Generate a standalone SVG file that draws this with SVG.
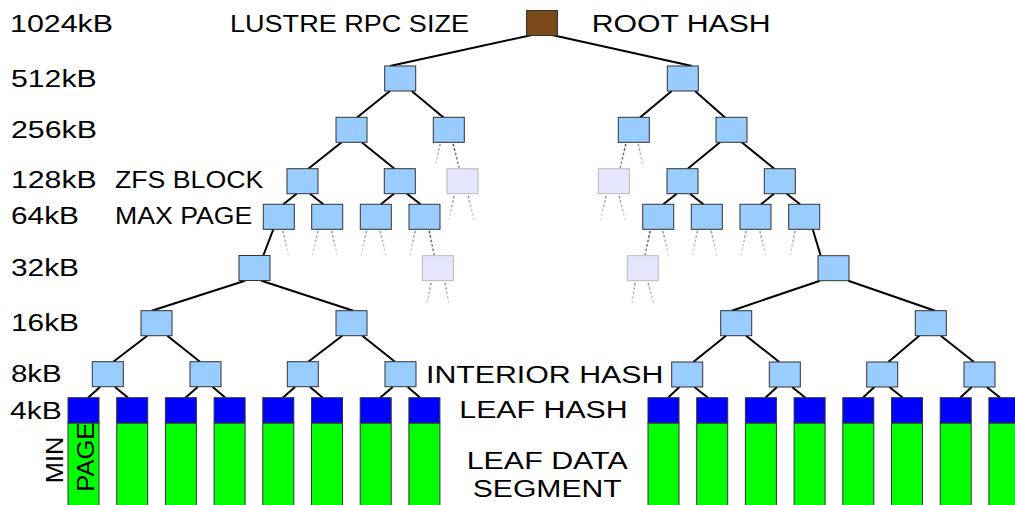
<svg xmlns="http://www.w3.org/2000/svg" width="1015" height="505" viewBox="0 0 1015 505">
<defs>
<style>
text{font-family:"Liberation Sans",Arial,sans-serif;font-size:23px;fill:#000}
.h{fill:#99ccff;stroke:#333;stroke-width:1}
.f{fill:#e6e6ff;stroke:#b8b8b8;stroke-width:1}
.r{fill:#7b4a1b;stroke:#333;stroke-width:1}
.lh{fill:#0000ff;stroke:#333;stroke-width:1}
.ld{fill:#00ff00;stroke:#333;stroke-width:1}
#edges line{stroke:#000;stroke-width:2}
#stubs line{stroke-width:1.6;stroke-dasharray:1.3 3.2;stroke-linecap:round}
.sl{stroke:url(#gl)}
.sd{stroke:url(#gd)}
</style>
<linearGradient id="gl" x1="0" y1="0" x2="0" y2="1"><stop offset="0" stop-color="#999"/><stop offset="1" stop-color="#e4e4e4"/></linearGradient>
<linearGradient id="gd" x1="0" y1="0" x2="0" y2="1"><stop offset="0" stop-color="#555"/><stop offset="1" stop-color="#999"/></linearGradient>
</defs>
<rect width="1015" height="505" fill="#fff"/>
<g id="edges">
<line x1="532" y1="35" x2="390" y2="66"/>
<line x1="552" y1="35" x2="692" y2="66"/>
<line x1="390" y1="91" x2="357" y2="117.5"/>
<line x1="411.7" y1="91" x2="443.5" y2="117.5"/>
<line x1="671.7" y1="91" x2="640" y2="117.5"/>
<line x1="695" y1="91" x2="725" y2="117.5"/>
<line x1="341.7" y1="142.3" x2="308.3" y2="168.7"/>
<line x1="361.7" y1="142.3" x2="394.5" y2="168.7"/>
<line x1="720" y1="142.3" x2="687.7" y2="168.7"/>
<line x1="741.7" y1="142.3" x2="774.3" y2="168.7"/>
<line x1="296.7" y1="193.7" x2="283.3" y2="204.3"/>
<line x1="310" y1="193.7" x2="323.3" y2="204.3"/>
<line x1="394" y1="193.7" x2="380.8" y2="204.3"/>
<line x1="407" y1="193.7" x2="420.5" y2="204.3"/>
<line x1="676.7" y1="193.7" x2="663.3" y2="204.3"/>
<line x1="690" y1="193.7" x2="703.3" y2="204.3"/>
<line x1="774" y1="193.7" x2="761" y2="204.3"/>
<line x1="786.7" y1="193.7" x2="800" y2="204.3"/>
<line x1="273.3" y1="229.3" x2="263.3" y2="255.5"/>
<line x1="812.7" y1="229.3" x2="820.7" y2="255.7"/>
<line x1="245" y1="280.7" x2="151.7" y2="310.7"/>
<line x1="261.4" y1="280.7" x2="353.3" y2="310.7"/>
<line x1="820" y1="280.7" x2="731.7" y2="310.7"/>
<line x1="848.3" y1="280.7" x2="935" y2="310.7"/>
<line x1="147.3" y1="335.7" x2="113.3" y2="361.7"/>
<line x1="167.3" y1="335.7" x2="200" y2="361.7"/>
<line x1="342.3" y1="335.7" x2="308.3" y2="361.7"/>
<line x1="362.3" y1="335.7" x2="395" y2="361.7"/>
<line x1="726" y1="335.7" x2="693.3" y2="362"/>
<line x1="746" y1="335.7" x2="779.3" y2="362"/>
<line x1="919.3" y1="335.7" x2="888.3" y2="362"/>
<line x1="940.7" y1="335.7" x2="974" y2="362"/>
<line x1="100" y1="387" x2="88" y2="397.7"/>
<line x1="115" y1="387" x2="128" y2="397.7"/>
<line x1="197.7" y1="387" x2="185.4" y2="397.7"/>
<line x1="212.7" y1="387" x2="225.4" y2="397.7"/>
<line x1="295" y1="387" x2="282.8" y2="397.7"/>
<line x1="310" y1="387" x2="322.8" y2="397.7"/>
<line x1="392.7" y1="387" x2="380.2" y2="397.7"/>
<line x1="407.7" y1="387" x2="420.2" y2="397.7"/>
<line x1="679.4" y1="387" x2="668" y2="397.7"/>
<line x1="694.4" y1="387" x2="708" y2="397.7"/>
<line x1="777" y1="387" x2="765.4" y2="397.7"/>
<line x1="792" y1="387" x2="805.4" y2="397.7"/>
<line x1="874.4" y1="387" x2="862.8" y2="397.7"/>
<line x1="889.4" y1="387" x2="902.8" y2="397.7"/>
<line x1="971.7" y1="387" x2="960.2" y2="397.7"/>
<line x1="986.7" y1="387" x2="1000.2" y2="397.7"/>
</g>
<g id="stubs">
<line class="sl" x1="440" y1="144.5" x2="435" y2="167"/>
<line class="sd" x1="453.3" y1="144.5" x2="459.3" y2="168.5"/>
<line class="sd" x1="625.7" y1="144.5" x2="620" y2="168.5"/>
<line class="sl" x1="638.3" y1="144.5" x2="643.3" y2="167"/>
<line class="sl" x1="454" y1="196.5" x2="449" y2="219.5"/>
<line class="sl" x1="468.3" y1="196.5" x2="474" y2="219.5"/>
<line class="sl" x1="606" y1="196.5" x2="600.7" y2="219.5"/>
<line class="sl" x1="619.3" y1="196.5" x2="625" y2="219.5"/>
<line class="sl" x1="283" y1="231.5" x2="288.5" y2="255"/>
<line class="sl" x1="317.7" y1="231.5" x2="312.7" y2="255"/>
<line class="sl" x1="331.7" y1="231.5" x2="337.2" y2="255"/>
<line class="sl" x1="366.3" y1="231.5" x2="361.3" y2="255"/>
<line class="sl" x1="380.3" y1="231.5" x2="385.8" y2="255"/>
<line class="sl" x1="415" y1="231.5" x2="410" y2="255"/>
<line class="sd" x1="429.3" y1="231.5" x2="434.3" y2="255.5"/>
<line class="sd" x1="650" y1="231.5" x2="645" y2="255.5"/>
<line class="sl" x1="663" y1="231.5" x2="668.5" y2="255"/>
<line class="sl" x1="697.3" y1="231.5" x2="692.3" y2="255"/>
<line class="sl" x1="711.3" y1="231.5" x2="716.8" y2="255"/>
<line class="sl" x1="746" y1="231.5" x2="741" y2="255"/>
<line class="sl" x1="760" y1="231.5" x2="765.5" y2="255"/>
<line class="sl" x1="795" y1="231.5" x2="790" y2="255"/>
<line class="sl" x1="431" y1="283.5" x2="426.7" y2="305"/>
<line class="sl" x1="445" y1="283.5" x2="449.3" y2="305"/>
<line class="sl" x1="635" y1="283.5" x2="631.7" y2="305"/>
<line class="sl" x1="648.3" y1="283.5" x2="654" y2="305"/>
</g>
<g id="root"><rect class="r" x="526.5" y="10.5" width="31" height="25"/></g>
<g id="n512-l"><rect class="h" x="384.7" y="66" width="31" height="25"/></g>
<g id="n512-r"><rect class="h" x="667.3" y="66" width="31" height="25"/></g>
<g id="n256-1"><rect class="h" x="336" y="117.3" width="31" height="25"/></g>
<g id="n256-2"><rect class="h" x="433.3" y="117.3" width="31" height="25"/></g>
<g id="n256-3"><rect class="h" x="618.3" y="117.3" width="31" height="25"/></g>
<g id="n256-4"><rect class="h" x="716" y="117.3" width="31" height="25"/></g>
<g id="n128-1"><rect class="h" x="287" y="168.7" width="31" height="25"/></g>
<g id="n128-2"><rect class="h" x="384.3" y="168.7" width="31" height="25"/></g>
<g id="n128-3"><rect class="f" x="447" y="168.7" width="31" height="25"/></g>
<g id="n128-4"><rect class="f" x="598.3" y="168.7" width="31" height="25"/></g>
<g id="n128-5"><rect class="h" x="667" y="168.7" width="31" height="25"/></g>
<g id="n128-6"><rect class="h" x="764.3" y="168.7" width="31" height="25"/></g>
<g id="n64-1"><rect class="h" x="263.3" y="204.3" width="31" height="25"/></g>
<g id="n64-2"><rect class="h" x="311.7" y="204.3" width="31" height="25"/></g>
<g id="n64-3"><rect class="h" x="360.3" y="204.3" width="31" height="25"/></g>
<g id="n64-4"><rect class="h" x="409" y="204.3" width="31" height="25"/></g>
<g id="n64-5"><rect class="h" x="642.7" y="204.3" width="31" height="25"/></g>
<g id="n64-6"><rect class="h" x="691.3" y="204.3" width="31" height="25"/></g>
<g id="n64-7"><rect class="h" x="740" y="204.3" width="31" height="25"/></g>
<g id="n64-8"><rect class="h" x="788.7" y="204.3" width="31" height="25"/></g>
<g id="n32-1"><rect class="h" x="239" y="255.5" width="31" height="25"/></g>
<g id="n32-2"><rect class="f" x="422.3" y="255.7" width="31" height="25"/></g>
<g id="n32-3"><rect class="f" x="627.3" y="255.7" width="31" height="25"/></g>
<g id="n32-4"><rect class="h" x="818" y="255.7" width="31" height="25"/></g>
<g id="n16-1"><rect class="h" x="141" y="310.7" width="31" height="25"/></g>
<g id="n16-2"><rect class="h" x="336" y="310.7" width="31" height="25"/></g>
<g id="n16-3"><rect class="h" x="720.7" y="310.7" width="31" height="25"/></g>
<g id="n16-4"><rect class="h" x="915.3" y="310.7" width="31" height="25"/></g>
<g id="n8-1"><rect class="h" x="92.3" y="361.7" width="31" height="25"/></g>
<g id="n8-2"><rect class="h" x="190" y="361.7" width="31" height="25"/></g>
<g id="n8-3"><rect class="h" x="287.3" y="361.7" width="31" height="25"/></g>
<g id="n8-4"><rect class="h" x="385" y="361.7" width="31" height="25"/></g>
<g id="n8-5"><rect class="h" x="671.7" y="362" width="31" height="25"/></g>
<g id="n8-6"><rect class="h" x="769.3" y="362" width="31" height="25"/></g>
<g id="n8-7"><rect class="h" x="866.7" y="362" width="31" height="25"/></g>
<g id="n8-8"><rect class="h" x="964" y="362" width="31" height="25"/></g>
<g id="leaf-1"><rect class="ld" x="68" y="423" width="31" height="90"/><rect class="lh" x="68" y="397.7" width="31" height="25.3"/></g>
<g id="leaf-2"><rect class="ld" x="116.7" y="423" width="31" height="90"/><rect class="lh" x="116.7" y="397.7" width="31" height="25.3"/></g>
<g id="leaf-3"><rect class="ld" x="165.4" y="423" width="31" height="90"/><rect class="lh" x="165.4" y="397.7" width="31" height="25.3"/></g>
<g id="leaf-4"><rect class="ld" x="214.1" y="423" width="31" height="90"/><rect class="lh" x="214.1" y="397.7" width="31" height="25.3"/></g>
<g id="leaf-5"><rect class="ld" x="262.8" y="423" width="31" height="90"/><rect class="lh" x="262.8" y="397.7" width="31" height="25.3"/></g>
<g id="leaf-6"><rect class="ld" x="311.5" y="423" width="31" height="90"/><rect class="lh" x="311.5" y="397.7" width="31" height="25.3"/></g>
<g id="leaf-7"><rect class="ld" x="360.2" y="423" width="31" height="90"/><rect class="lh" x="360.2" y="397.7" width="31" height="25.3"/></g>
<g id="leaf-8"><rect class="ld" x="408.9" y="423" width="31" height="90"/><rect class="lh" x="408.9" y="397.7" width="31" height="25.3"/></g>
<g id="leaf-9"><rect class="ld" x="648" y="423" width="31" height="90"/><rect class="lh" x="648" y="397.7" width="31" height="25.3"/></g>
<g id="leaf-10"><rect class="ld" x="696.7" y="423" width="31" height="90"/><rect class="lh" x="696.7" y="397.7" width="31" height="25.3"/></g>
<g id="leaf-11"><rect class="ld" x="745.4" y="423" width="31" height="90"/><rect class="lh" x="745.4" y="397.7" width="31" height="25.3"/></g>
<g id="leaf-12"><rect class="ld" x="794.1" y="423" width="31" height="90"/><rect class="lh" x="794.1" y="397.7" width="31" height="25.3"/></g>
<g id="leaf-13"><rect class="ld" x="842.8" y="423" width="31" height="90"/><rect class="lh" x="842.8" y="397.7" width="31" height="25.3"/></g>
<g id="leaf-14"><rect class="ld" x="891.5" y="423" width="31" height="90"/><rect class="lh" x="891.5" y="397.7" width="31" height="25.3"/></g>
<g id="leaf-15"><rect class="ld" x="940.2" y="423" width="31" height="90"/><rect class="lh" x="940.2" y="397.7" width="31" height="25.3"/></g>
<g id="leaf-16"><rect class="ld" x="988.9" y="423" width="31" height="90"/><rect class="lh" x="988.9" y="397.7" width="31" height="25.3"/></g>
<g id="labels">
<text x="10" y="32.3" textLength="103" lengthAdjust="spacingAndGlyphs">1024kB</text>
<text x="11" y="87.3" textLength="85.7" lengthAdjust="spacingAndGlyphs">512kB</text>
<text x="11" y="138.3" textLength="86" lengthAdjust="spacingAndGlyphs">256kB</text>
<text x="11" y="188.3" textLength="85.7" lengthAdjust="spacingAndGlyphs">128kB</text>
<text x="11" y="224" textLength="68" lengthAdjust="spacingAndGlyphs">64kB</text>
<text x="11" y="276" textLength="68" lengthAdjust="spacingAndGlyphs">32kB</text>
<text x="11" y="331" textLength="68" lengthAdjust="spacingAndGlyphs">16kB</text>
<text x="11" y="381.7" textLength="50.7" lengthAdjust="spacingAndGlyphs">8kB</text>
<text x="10" y="419.3" textLength="51.7" lengthAdjust="spacingAndGlyphs">4kB</text>
<text x="115" y="188.3" textLength="148.3" lengthAdjust="spacingAndGlyphs">ZFS BLOCK</text>
<text x="115" y="224" textLength="137.3" lengthAdjust="spacingAndGlyphs">MAX PAGE</text>
<text x="230" y="31.7" textLength="239" lengthAdjust="spacingAndGlyphs">LUSTRE RPC SIZE</text>
<text x="591.7" y="31.7" textLength="179" lengthAdjust="spacingAndGlyphs">ROOT HASH</text>
<text x="426" y="383.3" textLength="237.3" lengthAdjust="spacingAndGlyphs">INTERIOR HASH</text>
<text x="459.3" y="418.3" textLength="168.4" lengthAdjust="spacingAndGlyphs">LEAF HASH</text>
<text x="466.7" y="469" textLength="161" lengthAdjust="spacingAndGlyphs">LEAF DATA</text>
<text x="472.7" y="496.7" textLength="149" lengthAdjust="spacingAndGlyphs">SEGMENT</text>
<text transform="translate(63.3,483.3) rotate(-90)" textLength="46.7" lengthAdjust="spacingAndGlyphs">MIN</text>
<text transform="translate(94,491.7) rotate(-90)" textLength="69" lengthAdjust="spacingAndGlyphs">PAGE</text>
</g>
</svg>
